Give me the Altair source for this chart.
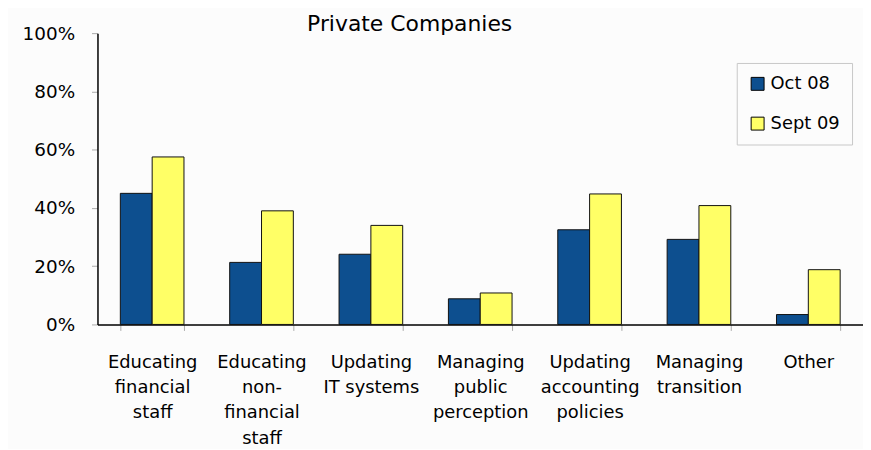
import altair as alt
import pandas as pd

categories = [
    "Educating\nfinancial\nstaff",
    "Educating\nnon-\nfinancial\nstaff",
    "Updating\nIT systems",
    "Managing\npublic\nperception",
    "Updating\naccounting\npolicies",
    "Managing\ntransition",
    "Other",
]
series = ["Oct 08", "Sept 09"]
oct08 = [45.0, 21.3, 24.1, 8.8, 32.5, 29.2, 3.4]
sept09 = [57.5, 39.0, 34.0, 10.8, 44.8, 40.8, 18.8]
colors = ["#0D4F8F", "#FFFF66"]

rows = []
for c, a, b in zip(categories, oct08, sept09):
    rows.append({"cat": c, "series": series[0], "value": a / 100})
    rows.append({"cat": c, "series": series[1], "value": b / 100})
df = pd.DataFrame(rows)

FONT = "DejaVu Sans"

chart = alt.Chart(df).mark_bar(stroke="#111111", strokeWidth=1).encode(
    x=alt.X(
        "cat:N",
        sort=categories,
        title=None,
        scale=alt.Scale(paddingInner=0.418, paddingOuter=0.209),
        axis=alt.Axis(
            labelAngle=0,
            labelExpr="split(datum.label, '\\n')",
            labelFont=FONT,
            labelFontSize=18,
            labelColor="#000000",
            labelLineHeight=25.5,
            labelPadding=23,
            labelLimit=200,
            tickBand="extent",
            tickColor="#AAAAAA",
            tickSize=6,
            domainColor="#000000",
            domainWidth=1.5,
            labelBaseline="top",
        ),
    ),
    xOffset=alt.XOffset("series:N", sort=series, scale=alt.Scale(paddingInner=0, paddingOuter=0)),
    y=alt.Y(
        "value:Q",
        title=None,
        scale=alt.Scale(domain=[0, 1]),
        axis=alt.Axis(
            format="%",
            values=[0, 0.2, 0.4, 0.6, 0.8, 1.0],
            labelFont=FONT,
            labelFontSize=18.5,
            labelColor="#000000",
            labelPadding=17,
            tickColor="#AAAAAA",
            tickSize=6,
            domainColor="#000000",
            domainWidth=1.5,
            grid=False,
        ),
    ),
    color=alt.Color(
        "series:N",
        sort=series,
        scale=alt.Scale(domain=series, range=colors),
        legend=alt.Legend(
            title=None,
            orient="none",
            legendX=643,
            legendY=30,
            symbolType="square",
            symbolSize=169,
            symbolStrokeColor="#000000",
            symbolStrokeWidth=1,
            symbolOpacity=1,
            labelFont=FONT,
            labelFontSize=18,
            labelColor="#000000",
            rowPadding=22,
            padding=12,
            strokeColor="#C8C8C8",
            labelOffset=4,
        ),
    ),
).properties(
    width=770,
    height=293,
    title=alt.TitleParams(
        "Private Companies",
        font=FONT,
        fontSize=22,
        fontWeight="normal",
        color="#000000",
        anchor="middle",
        baseline="alphabetic",
        dx=-71,
        dy=29,
        offset=0,
    ),
    autosize=alt.AutoSizeParams(type="none"),
    padding={"left": 90, "top": 24, "right": 0, "bottom": 124},
    background="#FCFCFC",
).configure_view(stroke=None)

chart.save("out.html", embed_options={"renderer": "svg", "actions": False})
